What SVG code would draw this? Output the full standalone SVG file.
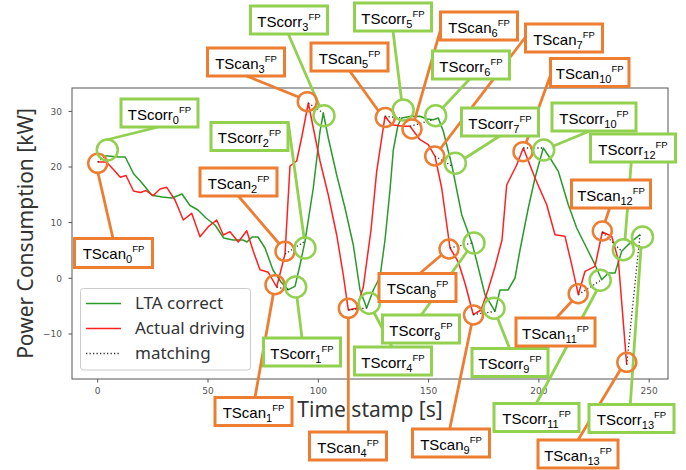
<svg xmlns="http://www.w3.org/2000/svg" width="686" height="470" viewBox="0 0 686 470">
<style>
.ax{fill:none;stroke:#555;stroke-width:1}
.tk{stroke:#555;stroke-width:1}
.tl{font-family:"DejaVu Sans",sans-serif;font-size:9px;fill:#555}
.lab{font-family:"Noto Sans","Liberation Sans",sans-serif;font-size:21px;fill:#333}
.lg{font-family:"Noto Sans","Liberation Sans",sans-serif;font-size:17px;fill:#333}
.g{fill:none;stroke:#2a9a2a;stroke-width:1.5;stroke-linejoin:round}
.r{fill:none;stroke:#ff2020;stroke-width:1.5;stroke-linejoin:round}
.m{fill:none;stroke:#333;stroke-width:1.3;stroke-dasharray:1.3 2.2}
.lo{stroke:#ED7D31;stroke-width:2.8;fill:none}
.lgn{stroke:#92D050;stroke-width:2.8;fill:none}
.co{fill:none;stroke:#ED7D31;stroke-width:2.5}
.cg{fill:none;stroke:#92D050;stroke-width:2.5}
.bo{fill:#fff;stroke:#ED7D31;stroke-width:3}
.bg{fill:#fff;stroke:#92D050;stroke-width:3}
.bt{font-family:"Liberation Sans",Arial,sans-serif;font-size:15px;fill:#000;text-anchor:middle}
.sb{font-size:11px}
.sp{font-size:9.5px}
</style>
<rect width="686" height="470" fill="#fff"/>
<g id="axes">
<rect class="ax" x="72" y="88" width="596" height="291"/>
<g class="tk">
<line x1="68.5" y1="111.4" x2="72" y2="111.4"/>
<line x1="68.5" y1="167" x2="72" y2="167"/>
<line x1="68.5" y1="222.6" x2="72" y2="222.6"/>
<line x1="68.5" y1="278.3" x2="72" y2="278.3"/>
<line x1="68.5" y1="334" x2="72" y2="334"/>
<line x1="97.7" y1="379" x2="97.7" y2="382.5"/>
<line x1="208" y1="379" x2="208" y2="382.5"/>
<line x1="318.3" y1="379" x2="318.3" y2="382.5"/>
<line x1="428.6" y1="379" x2="428.6" y2="382.5"/>
<line x1="538.9" y1="379" x2="538.9" y2="382.5"/>
<line x1="649.2" y1="379" x2="649.2" y2="382.5"/>
</g>
<g class="tl" text-anchor="end">
<text x="62" y="114.6">30</text>
<text x="62" y="170.2">20</text>
<text x="62" y="225.8">10</text>
<text x="62" y="281.5">0</text>
<text x="62" y="337.2">−10</text>
</g>
<g class="tl" text-anchor="middle">
<text x="97.7" y="394">0</text>
<text x="208" y="394">50</text>
<text x="318.3" y="394">100</text>
<text x="428.6" y="394">150</text>
<text x="538.9" y="394">200</text>
<text x="649.2" y="394">250</text>
</g>
<text class="lab" x="370" y="417" text-anchor="middle">Time stamp [s]</text>
<text class="lab" transform="translate(33,233.5) rotate(-90)" text-anchor="middle">Power Consumption [kW]</text>
</g>
<g id="curves">
<polyline class="g" points="105.3,155.7 118.7,157 125.3,157 133.7,174 140.3,181 152,195.3 162,197 172,198 182,194 190,205.5 198,210 206,218 215,225 223.7,238 233,240 243,240 247,242 252,237 258,237 265,248 273,270 281,282 288.3,289.7 295,286.3 300,265 305,241.3 313.3,188 320,131.3 323.3,113 328.3,138 336.7,175 345,208 353.3,245 360,290 366.7,308 373.3,290 380,277 385,240 390,190 393.3,150 398,125 401.7,118 410,116.5 420,116.3 427,119 433.3,119.7 438.3,118 443.3,131.3 452,166 461.7,214.7 472,243 476.7,261.3 485,294.7 495,311.3 500,290 508,290 515,278 520,250 528.3,208 535,178 543.3,148 550,158 558.3,171.3 568.3,204.7 576.7,228 586.7,248 595,264.7 601.7,279.7 608.3,273 615,273 621.7,251.3 630,243 640,234.7"/>
<polyline class="r" points="97.7,162 106.3,162 113.7,169.7 120.3,177.3 126,175.5 133.5,191 140.5,192.5 146,190.5 153,195.7 160,189 166.7,187.3 175,200 183.3,220 191.7,213.3 200,236.7 208.3,226.7 216.7,220 223.3,235 230,231.7 238.3,242 246.7,230.7 253.3,251.3 260,269.7 268.3,272.3 276.7,287 285,254 290,166 296.7,161 302,136 308.3,103 313.3,128 320,161 328.3,195 336.7,235 343.3,275 348.3,310 356.7,308.3 363.3,287 371,230 376.7,171.3 385,116.3 391.7,124.7 403.3,126.3 410,126.3 420,139.7 428.3,144.7 435,156.3 441.7,188 450,248 458.3,262 465,283.3 473.3,314.7 481,310 488,290 495,266.7 502,240 506.7,185 516.7,165 523.3,148 535,178 546.7,204.7 555,234.7 565,236.3 571.7,264.7 578.3,294.7 585,271.3 595,266.3 602.3,232 611.7,236.3 618.3,259.7 626.7,364.7"/>
<g class="m">
<line x1="97.7" y1="162" x2="105.3" y2="155.7"/>
<line x1="276.7" y1="287" x2="288.3" y2="289.7"/>
<line x1="285" y1="254" x2="305" y2="241.3"/>
<line x1="308.3" y1="103" x2="323.3" y2="113"/>
<line x1="348.3" y1="310" x2="366.7" y2="308"/>
<line x1="385" y1="116.3" x2="401.7" y2="118"/>
<line x1="410" y1="126.3" x2="433.3" y2="119.7"/>
<line x1="435" y1="156.3" x2="452" y2="166"/>
<line x1="450" y1="248" x2="472" y2="243"/>
<line x1="473.3" y1="314.7" x2="495" y2="311.3"/>
<line x1="523.3" y1="148" x2="543.3" y2="148"/>
<line x1="578.3" y1="294.7" x2="601.7" y2="279.7"/>
<line x1="602.3" y1="232" x2="621.7" y2="251.3"/>
<line x1="626.7" y1="364.7" x2="640" y2="234.7"/>
</g>
</g>
<g id="legend">
<rect x="80.5" y="288.5" width="170" height="81.5" rx="3" fill="#fff" fill-opacity="0.85" stroke="#ccc" stroke-width="1"/>
<line x1="86" y1="303.5" x2="121" y2="303.5" class="g"/>
<line x1="86" y1="328.5" x2="121" y2="328.5" class="r"/>
<line x1="86" y1="353.5" x2="121" y2="353.5" class="m"/>
<text class="lg" x="135" y="309">LTA correct</text>
<text class="lg" x="135" y="334">Actual driving</text>
<text class="lg" x="135" y="359">matching</text>
</g>
<g id="connectors">
<line class="lo" x1="98" y1="173" x2="113" y2="238.5"/>
<line class="lgn" x1="158.3" y1="127" x2="106" y2="140"/>
<line class="lo" x1="255" y1="397.5" x2="273.3" y2="294"/>
<line class="lgn" x1="302" y1="338" x2="297" y2="297.5"/>
<line class="lo" x1="238.3" y1="196" x2="279" y2="243.5"/>
<line class="lgn" x1="288.3" y1="123" x2="304" y2="237.5"/>
<line class="lo" x1="246.7" y1="76" x2="298.5" y2="97"/>
<line class="lgn" x1="288.3" y1="34" x2="319.5" y2="106"/>
<line class="lo" x1="348.3" y1="318" x2="348.3" y2="432"/>
<line class="lgn" x1="392" y1="347" x2="374" y2="312.5"/>
<line class="lo" x1="349.7" y1="71" x2="378.5" y2="111"/>
<line class="lgn" x1="393" y1="31" x2="401.5" y2="99.7"/>
<line class="lo" x1="440.5" y1="30" x2="414.6" y2="119.9"/>
<line class="lgn" x1="469.7" y1="79" x2="442.5" y2="108"/>
<line class="lo" x1="525.5" y1="37" x2="440.5" y2="148.5"/>
<line class="lgn" x1="499.7" y1="136" x2="464.5" y2="158.5"/>
<line class="lo" x1="419.7" y1="273.5" x2="441.5" y2="255"/>
<line class="lgn" x1="421.3" y1="315" x2="467.5" y2="251"/>
<line class="lo" x1="449.7" y1="429" x2="471.5" y2="324.5"/>
<line class="lgn" x1="509.7" y1="348.5" x2="497.5" y2="318"/>
<line class="lo" x1="551.3" y1="73" x2="526" y2="143"/>
<line class="lgn" x1="589.7" y1="131" x2="553.5" y2="146"/>
<line class="lo" x1="556.3" y1="318" x2="572" y2="301"/>
<line class="lgn" x1="536.3" y1="403.5" x2="597" y2="290"/>
<line class="lo" x1="609.7" y1="208" x2="605" y2="222"/>
<line class="lgn" x1="631.3" y1="162" x2="625" y2="239.5"/>
<line class="lo" x1="578" y1="440" x2="620.5" y2="369.5"/>
<line class="lgn" x1="630.3" y1="404.5" x2="641" y2="247.5"/>
</g>
<g id="TScan0"><circle class="co" cx="97.7" cy="163.3" r="9.5"/><rect class="bo" x="74.5" y="238.5" width="78" height="29"/><text class="bt" x="113.5" y="259">TScan<tspan class="sb" dy="4.4">0</tspan><tspan class="sp" dy="-11">FP</tspan></text></g>
<g id="TScorr0"><circle class="cg" cx="107.3" cy="150" r="10.5"/><rect class="bg" x="121" y="99" width="77" height="28"/><text class="bt" x="159.5" y="119.5">TScorr<tspan class="sb" dy="4.4">0</tspan><tspan class="sp" dy="-11">FP</tspan></text></g>
<g id="TScan1"><circle class="co" cx="275" cy="284.7" r="9.5"/><rect class="bo" x="215" y="397.5" width="77" height="28"/><text class="bt" x="253.5" y="418">TScan<tspan class="sb" dy="4.4">1</tspan><tspan class="sp" dy="-11">FP</tspan></text></g>
<g id="TScorr1"><circle class="cg" cx="295.7" cy="287" r="10.5"/><rect class="bg" x="263.5" y="338" width="77" height="28"/><text class="bt" x="302" y="358.5">TScorr<tspan class="sb" dy="4.4">1</tspan><tspan class="sp" dy="-11">FP</tspan></text></g>
<g id="TScan2"><circle class="co" cx="285" cy="251.3" r="9.5"/><rect class="bo" x="200" y="168" width="77" height="28"/><text class="bt" x="238.5" y="188.5">TScan<tspan class="sb" dy="4.4">2</tspan><tspan class="sp" dy="-11">FP</tspan></text></g>
<g id="TScorr2"><circle class="cg" cx="305" cy="248" r="10.5"/><rect class="bg" x="211" y="122.5" width="77" height="28"/><text class="bt" x="249.5" y="143">TScorr<tspan class="sb" dy="4.4">2</tspan><tspan class="sp" dy="-11">FP</tspan></text></g>
<g id="TScan3"><circle class="co" cx="307.3" cy="101.7" r="9.5"/><rect class="bo" x="207.5" y="48" width="77" height="28"/><text class="bt" x="246" y="68.5">TScan<tspan class="sb" dy="4.4">3</tspan><tspan class="sp" dy="-11">FP</tspan></text></g>
<g id="TScorr3"><circle class="cg" cx="324" cy="115.7" r="10.5"/><rect class="bg" x="250.5" y="6" width="77" height="28"/><text class="bt" x="289" y="26.5">TScorr<tspan class="sb" dy="4.4">3</tspan><tspan class="sp" dy="-11">FP</tspan></text></g>
<g id="TScan4"><circle class="co" cx="348.3" cy="308.3" r="9.5"/><rect class="bo" x="309.5" y="432" width="77" height="28"/><text class="bt" x="348" y="452.5">TScan<tspan class="sb" dy="4.4">4</tspan><tspan class="sp" dy="-11">FP</tspan></text></g>
<g id="TScorr4"><circle class="cg" cx="369.3" cy="303.3" r="10.5"/><rect class="bg" x="354.5" y="347" width="77" height="28"/><text class="bt" x="393" y="367.5">TScorr<tspan class="sb" dy="4.4">4</tspan><tspan class="sp" dy="-11">FP</tspan></text></g>
<g id="TScan5"><circle class="co" cx="385.3" cy="117.5" r="9.5"/><rect class="bo" x="311" y="43" width="77" height="28"/><text class="bt" x="349.5" y="63.5">TScan<tspan class="sb" dy="4.4">5</tspan><tspan class="sp" dy="-11">FP</tspan></text></g>
<g id="TScorr5"><circle class="cg" cx="403.2" cy="110" r="10.5"/><rect class="bg" x="354.5" y="3" width="77" height="28"/><text class="bt" x="393" y="23.5">TScorr<tspan class="sb" dy="4.4">5</tspan><tspan class="sp" dy="-11">FP</tspan></text></g>
<g id="TScan6"><circle class="co" cx="412" cy="129" r="9.5"/><rect class="bo" x="440.5" y="12" width="77" height="28"/><text class="bt" x="479" y="32.5">TScan<tspan class="sb" dy="4.4">6</tspan><tspan class="sp" dy="-11">FP</tspan></text></g>
<g id="TScorr6"><circle class="cg" cx="435.7" cy="115.7" r="10.5"/><rect class="bg" x="432.5" y="51" width="77" height="28"/><text class="bt" x="471" y="71.5">TScorr<tspan class="sb" dy="4.4">6</tspan><tspan class="sp" dy="-11">FP</tspan></text></g>
<g id="TScan7"><circle class="co" cx="434.7" cy="156" r="9.5"/><rect class="bo" x="525.5" y="24" width="77" height="28"/><text class="bt" x="564" y="44.5">TScan<tspan class="sb" dy="4.4">7</tspan><tspan class="sp" dy="-11">FP</tspan></text></g>
<g id="TScorr7"><circle class="cg" cx="455.3" cy="163.3" r="10.5"/><rect class="bg" x="461.5" y="108" width="77" height="28"/><text class="bt" x="500" y="128.5">TScorr<tspan class="sb" dy="4.4">7</tspan><tspan class="sp" dy="-11">FP</tspan></text></g>
<g id="TScan8"><circle class="co" cx="449" cy="249" r="9.5"/><rect class="bo" x="379" y="273.5" width="77" height="28"/><text class="bt" x="417.5" y="294">TScan<tspan class="sb" dy="4.4">8</tspan><tspan class="sp" dy="-11">FP</tspan></text></g>
<g id="TScorr8"><circle class="cg" cx="474" cy="243" r="10.5"/><rect class="bg" x="382.5" y="315" width="77" height="28"/><text class="bt" x="421" y="335.5">TScorr<tspan class="sb" dy="4.4">8</tspan><tspan class="sp" dy="-11">FP</tspan></text></g>
<g id="TScan9"><circle class="co" cx="473.5" cy="315" r="9.5"/><rect class="bo" x="412.5" y="429" width="77" height="28"/><text class="bt" x="451" y="449.5">TScan<tspan class="sb" dy="4.4">9</tspan><tspan class="sp" dy="-11">FP</tspan></text></g>
<g id="TScorr9"><circle class="cg" cx="494" cy="308.2" r="10.5"/><rect class="bg" x="472" y="348.5" width="76" height="28"/><text class="bt" x="510" y="369">TScorr<tspan class="sb" dy="4.4">9</tspan><tspan class="sp" dy="-11">FP</tspan></text></g>
<g id="TScan10"><circle class="co" cx="523" cy="151.7" r="9.5"/><rect class="bo" x="550.5" y="58.5" width="78.5" height="28"/><text class="bt" x="589.7" y="79">TScan<tspan class="sb" dy="4.4">10</tspan><tspan class="sp" dy="-11">FP</tspan></text></g>
<g id="TScorr10"><circle class="cg" cx="543.7" cy="150" r="10.5"/><rect class="bg" x="552" y="103" width="84" height="28"/><text class="bt" x="594" y="123.5">TScorr<tspan class="sb" dy="4.4">10</tspan><tspan class="sp" dy="-11">FP</tspan></text></g>
<g id="TScan11"><circle class="co" cx="578.2" cy="293.7" r="9.5"/><rect class="bo" x="516" y="318" width="79" height="28"/><text class="bt" x="555.5" y="338.5">TScan<tspan class="sb" dy="4.4">11</tspan><tspan class="sp" dy="-11">FP</tspan></text></g>
<g id="TScorr11"><circle class="cg" cx="600.2" cy="280.3" r="10.5"/><rect class="bg" x="494" y="403.5" width="85" height="28"/><text class="bt" x="536.5" y="424">TScorr<tspan class="sb" dy="4.4">11</tspan><tspan class="sp" dy="-11">FP</tspan></text></g>
<g id="TScan12"><circle class="co" cx="602.3" cy="231" r="9.5"/><rect class="bo" x="571.5" y="180" width="79" height="28"/><text class="bt" x="611" y="200.5">TScan<tspan class="sb" dy="4.4">12</tspan><tspan class="sp" dy="-11">FP</tspan></text></g>
<g id="TScorr12"><circle class="cg" cx="623.3" cy="249.7" r="10.5"/><rect class="bg" x="590.5" y="134" width="85" height="28"/><text class="bt" x="633" y="154.5">TScorr<tspan class="sb" dy="4.4">12</tspan><tspan class="sp" dy="-11">FP</tspan></text></g>
<g id="TScan13"><circle class="co" cx="626.8" cy="362.3" r="9.5"/><rect class="bo" x="538" y="440" width="80" height="28"/><text class="bt" x="578" y="460.5">TScan<tspan class="sb" dy="4.4">13</tspan><tspan class="sp" dy="-11">FP</tspan></text></g>
<g id="TScorr13"><circle class="cg" cx="642.5" cy="237" r="10.5"/><rect class="bg" x="589" y="404.5" width="85" height="28"/><text class="bt" x="631.5" y="425">TScorr<tspan class="sb" dy="4.4">13</tspan><tspan class="sp" dy="-11">FP</tspan></text></g>
</svg>
